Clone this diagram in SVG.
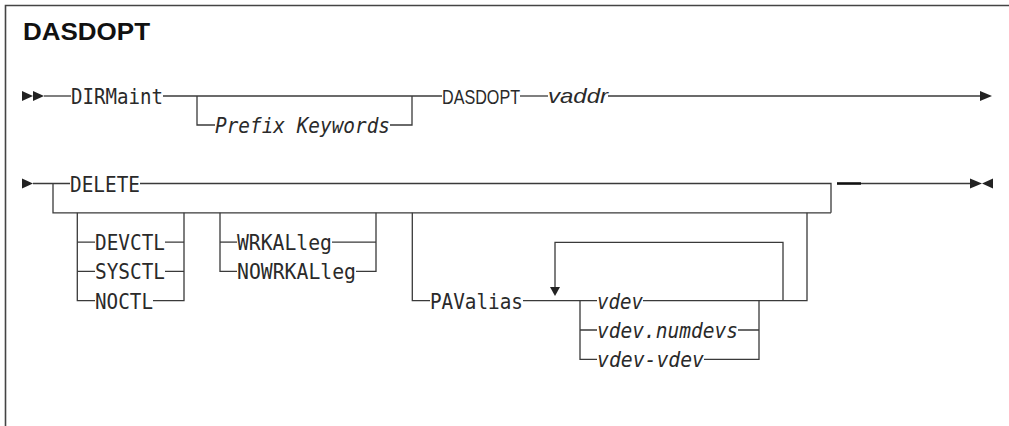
<svg xmlns="http://www.w3.org/2000/svg" width="1009" height="426" viewBox="0 0 1009 426">
<style>
.ln{stroke:#3a3a3a;stroke-width:1.3;fill:none}
.bd{stroke:#444;stroke-width:1.6;fill:none}
.ah{fill:#222;stroke:none}
.m{font-family:"DejaVu Sans Mono","Liberation Mono",monospace;font-size:22px;fill:#2a2a2a}
.mi{font-family:"DejaVu Sans Mono","Liberation Mono",monospace;font-size:22px;font-style:italic;fill:#2a2a2a}
.s{font-family:"Liberation Sans",Arial,sans-serif;font-size:21px;fill:#2a2a2a}
.si{font-family:"Liberation Sans",Arial,sans-serif;font-size:21px;font-style:italic;fill:#2a2a2a}
.t{font-family:"Liberation Sans",Arial,sans-serif;font-size:23px;font-weight:bold;fill:#111}
</style>
<rect width="1009" height="426" fill="#fff"/>
<path class="bd" d="M5.5,426 V5.5 H1009"/>
<text class="t" x="23" y="40" textLength="127" lengthAdjust="spacingAndGlyphs">DASDOPT</text>

<g id="connectors">
  <!-- row 1 -->
  <polygon class="ah" points="22,91 22,101 33,96"/>
  <polygon class="ah" points="33,91 33,101 44,96"/>
  <path class="ln" d="M44,96 H71"/>
  <path class="ln" d="M163,96 H442"/>
  <path class="ln" d="M197,96 V125 H215"/>
  <path class="ln" d="M390,125 H412 V96"/>
  <path class="ln" d="M520,96 H548"/>
  <path class="ln" d="M608,96 H981"/>
  <polygon class="ah" points="980,91 980,101 992,96"/>

  <!-- row 2 -->
  <polygon class="ah" points="22,178.5 22,188.5 33,183.5"/>
  <path class="ln" d="M33,183.5 H70"/>
  <path class="ln" d="M140,183.5 H831 V212.8"/>
  <path class="ln" d="M53,183.5 V212.8 H831"/>
  <path d="M837,183.5 H861" stroke="#111" stroke-width="2.6"/>
  <path class="ln" d="M861,183.5 H971"/>
  <polygon class="ah" points="970,178.5 970,188.5 982,183.5"/>
  <polygon class="ah" points="993,178.5 993,188.5 982,183.5"/>

  <!-- CTL group -->
  <path class="ln" d="M77.3,212.8 V300.7 H95"/>
  <path class="ln" d="M77.3,242.1 H95 M77.3,271.4 H95"/>
  <path class="ln" d="M165,242.1 H184 M165,271.4 H184 M153,300.7 H184 V212.8"/>

  <!-- WRKALleg group -->
  <path class="ln" d="M220,212.8 V271.4 H237"/>
  <path class="ln" d="M220,242.1 H237"/>
  <path class="ln" d="M332,242.1 H376 M356,271.4 H376 V212.8"/>

  <!-- PAValias group -->
  <path class="ln" d="M412.3,212.8 V300.7 H430"/>
  <path class="ln" d="M523,300.7 H597"/>
  <path class="ln" d="M580,300.7 V359.3 H597 M580,330 H597"/>
  <path class="ln" d="M643,300.7 H807 V212.8"/>
  <path class="ln" d="M738,330 H759 M704,359.3 H759 V300.7"/>
  <path class="ln" d="M783,300.7 V242.3 H555 V288"/>
  <polygon class="ah" points="550,287 560,287 555,296"/>
</g>

<g id="n-dirmaint"><text class="m" x="71" y="104" textLength="92" lengthAdjust="spacingAndGlyphs">DIRMaint</text></g>
<g id="n-prefix"><text class="mi" x="215" y="133" textLength="175" lengthAdjust="spacingAndGlyphs">Prefix Keywords</text></g>
<g id="n-dasdopt"><text class="s" x="442" y="103.5" textLength="78" lengthAdjust="spacingAndGlyphs">DASDOPT</text></g>
<g id="n-vaddr"><text class="si" x="548" y="103" textLength="60" lengthAdjust="spacingAndGlyphs">vaddr</text></g>
<g id="n-delete"><text class="m" x="70" y="191.5" textLength="70" lengthAdjust="spacingAndGlyphs">DELETE</text></g>
<g id="n-devctl"><text class="m" x="95" y="250.1" textLength="70" lengthAdjust="spacingAndGlyphs">DEVCTL</text></g>
<g id="n-sysctl"><text class="m" x="95" y="279.4" textLength="70" lengthAdjust="spacingAndGlyphs">SYSCTL</text></g>
<g id="n-noctl"><text class="m" x="95" y="308.7" textLength="58" lengthAdjust="spacingAndGlyphs">NOCTL</text></g>
<g id="n-wrkalleg"><text class="m" x="237" y="250.1" textLength="95" lengthAdjust="spacingAndGlyphs">WRKALleg</text></g>
<g id="n-nowrkalleg"><text class="m" x="237" y="279.4" textLength="119" lengthAdjust="spacingAndGlyphs">NOWRKALleg</text></g>
<g id="n-pavalias"><text class="m" x="430" y="308.7" textLength="93" lengthAdjust="spacingAndGlyphs">PAValias</text></g>
<g id="n-vdev"><text class="mi" x="597" y="308.7" textLength="46" lengthAdjust="spacingAndGlyphs">vdev</text></g>
<g id="n-vdev-numdevs"><text class="mi" x="597" y="338" textLength="141" lengthAdjust="spacingAndGlyphs">vdev.numdevs</text></g>
<g id="n-vdev-vdev"><text class="mi" x="597" y="367.3" textLength="107" lengthAdjust="spacingAndGlyphs">vdev-vdev</text></g>
</svg>
